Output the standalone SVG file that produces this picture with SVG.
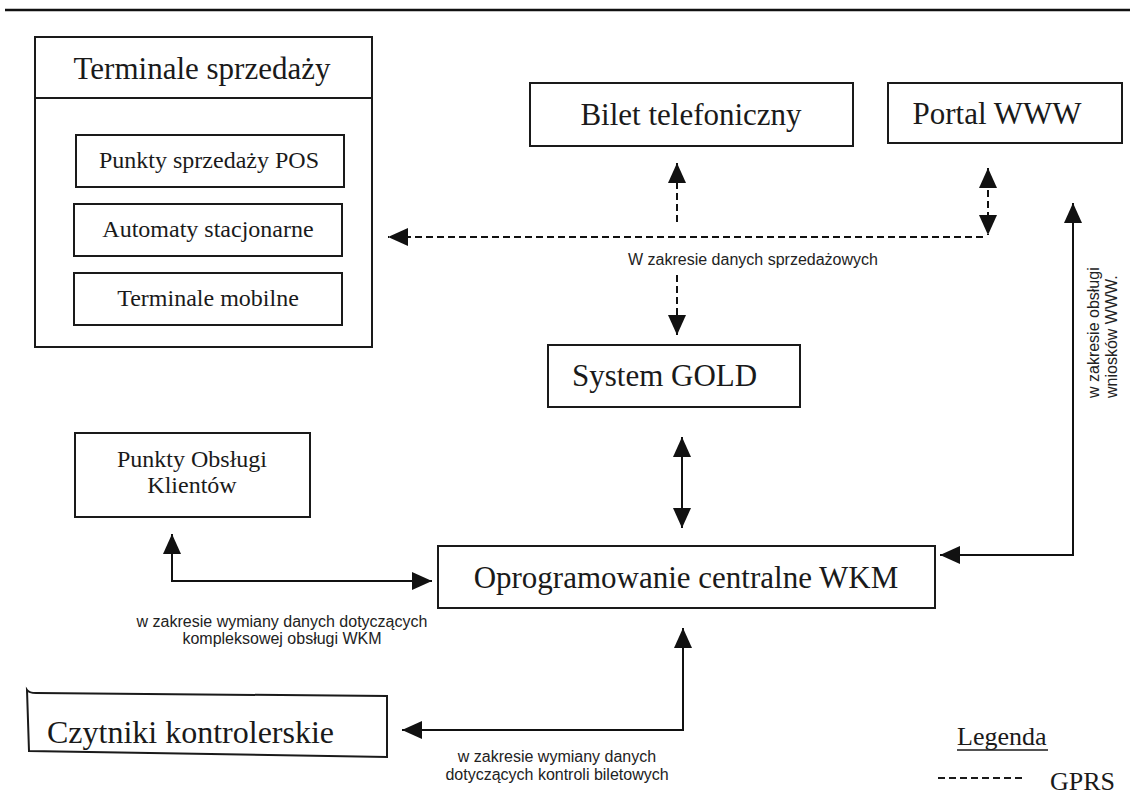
<svg xmlns="http://www.w3.org/2000/svg" width="1130" height="801" viewBox="0 0 1130 801">
<defs>
<marker id="ah" markerUnits="userSpaceOnUse" markerWidth="20" markerHeight="18" refX="20" refY="9" orient="auto-start-reverse" viewBox="0 0 20 18">
<path d="M0,0 L20,9 L0,18 z" fill="#111"/>
</marker>
<style>
.box{fill:#fff;stroke:#1a1a1a;stroke-width:2}
.t{font-family:"Liberation Serif","Times New Roman",serif;fill:#1a1a1a}
.big{font-size:31px}
.mid{font-size:24px}
.lbl{font-family:"Liberation Sans",Arial,sans-serif;font-size:16px;fill:#222}
.c{fill:none;stroke:#111;stroke-width:2}
.d{stroke-dasharray:7 4}
</style>
</defs>
<rect width="1130" height="801" fill="#fff"/>
<line x1="5" y1="10" x2="1130" y2="10" stroke="#111" stroke-width="2.5"/>

<g id="terminale">
<rect class="box" x="35" y="37" width="337" height="310"/>
<line x1="35" y1="98" x2="372" y2="98" stroke="#1a1a1a" stroke-width="2"/>
<text class="t big" x="202" y="79" text-anchor="middle">Terminale sprzedaży</text>
</g>
<g id="pos">
<rect class="box" x="76" y="135" width="268" height="52"/>
<text class="t mid" x="209" y="168" text-anchor="middle">Punkty sprzedaży POS</text>
</g>
<g id="automaty">
<rect class="box" x="74" y="204" width="268" height="52"/>
<text class="t mid" x="208" y="237" text-anchor="middle">Automaty stacjonarne</text>
</g>
<g id="mobilne">
<rect class="box" x="74" y="273" width="268" height="52"/>
<text class="t mid" x="208" y="306" text-anchor="middle">Terminale mobilne</text>
</g>
<g id="bilet">
<rect class="box" x="530" y="83" width="323" height="63"/>
<text class="t big" x="691" y="125" text-anchor="middle">Bilet telefoniczny</text>
</g>
<g id="portal">
<rect class="box" x="888" y="83" width="234" height="60"/>
<text class="t big" x="997" y="124" text-anchor="middle">Portal WWW</text>
</g>
<g id="gold">
<rect class="box" x="548" y="345" width="252" height="62"/>
<text class="t big" x="572" y="386">System GOLD</text>
</g>
<g id="pok">
<rect class="box" x="75" y="433" width="235" height="84"/>
<text class="t mid" x="192" y="467" text-anchor="middle">Punkty Obsługi</text>
<text class="t mid" x="192" y="493" text-anchor="middle">Klientów</text>
</g>
<g id="wkm">
<rect class="box" x="438" y="546" width="497" height="62"/>
<text class="t big" x="686" y="588" text-anchor="middle">Oprogramowanie centralne WKM</text>
</g>
<g id="czytniki">
<path class="box" d="M27,690 Q29,693 36,693 L387,696 L387,757 L29,751 Z"/>
<text class="t" font-size="32" x="47" y="743">Czytniki kontrolerskie</text>
</g>

<g id="connectors">
<line class="c d" x1="677" y1="222" x2="677" y2="163" marker-end="url(#ah)"/>
<line class="c d" x1="983" y1="237" x2="388" y2="237" marker-end="url(#ah)"/>
<line class="c d" x1="677" y1="275" x2="677" y2="335" marker-end="url(#ah)"/>
<line class="c d" x1="988" y1="168" x2="988" y2="235" marker-start="url(#ah)" marker-end="url(#ah)"/>
<path class="c" d="M1073,203 L1073,555 L940,555" marker-start="url(#ah)" marker-end="url(#ah)"/>
<line class="c" x1="682" y1="437" x2="682" y2="528" marker-start="url(#ah)" marker-end="url(#ah)"/>
<path class="c" d="M172,534 L172,581 L432,581" marker-start="url(#ah)" marker-end="url(#ah)"/>
<path class="c" d="M683,628 L683,730 L402,730" marker-start="url(#ah)" marker-end="url(#ah)"/>
</g>

<g id="labels">
<text class="lbl" x="753" y="265" text-anchor="middle">W zakresie danych sprzedażowych</text>
<text class="lbl" x="282" y="627" text-anchor="middle">w zakresie wymiany danych dotyczących</text>
<text class="lbl" x="282" y="644" text-anchor="middle">kompleksowej obsługi WKM</text>
<text class="lbl" x="557" y="762" text-anchor="middle">w zakresie wymiany danych</text>
<text class="lbl" x="557" y="780" text-anchor="middle">dotyczących kontroli biletowych</text>
<text class="lbl" transform="translate(1099,398) rotate(-90)">w zakresie obsługi</text>
<text class="lbl" transform="translate(1117,398) rotate(-90)">wniosków WWW.</text>
</g>

<g id="legend">
<text class="t" font-size="26" x="957" y="745">Legenda</text>
<line x1="957" y1="750" x2="1048" y2="750" stroke="#1a1a1a" stroke-width="1.5"/>
<line x1="938" y1="778" x2="1023" y2="778" stroke="#1a1a1a" stroke-width="2" stroke-dasharray="7 4"/>
<text class="t" font-size="26" x="1050" y="790">GPRS</text>
</g>
</svg>
